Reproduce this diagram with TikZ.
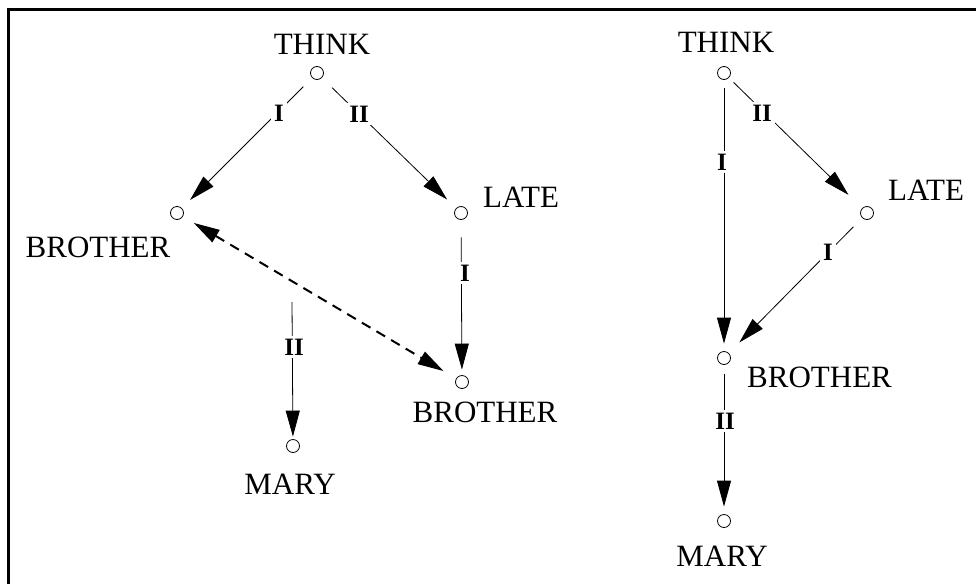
\documentclass[tikz,border=0pt]{standalone}
\usepackage{fontspec}
\setmainfont{Liberation Serif}
\usetikzlibrary{arrows.meta}
\begin{document}
\begin{tikzpicture}[x=1pt,y=-1pt,
  vert/.style={circle,draw,line width=0.8pt,minimum size=13pt,inner sep=0pt},
  word/.style={font=\fontsize{31}{36}\selectfont,inner sep=0pt},
  lbl/.style={font=\fontsize{25}{30}\selectfont\bfseries,fill=white,inner sep=3pt},
  tip/.style={-{Triangle[length=26pt,width=14pt]}},
  arc/.style={line width=0.8pt,tip},
  dasharc/.style={line width=2pt,dash pattern=on 10pt off 7pt,
    {Triangle[length=26pt,width=14pt]}-{Triangle[length=26pt,width=14pt]}}
]
\useasboundingbox (0,0) rectangle (976,584);
% frame (top and left only)
\draw[line width=3pt] (8.5,584) -- (8.5,9.5) -- (976,9.5);

% ---------- left graph ----------
\node[vert] (t1) at (317,73) {};
\node[vert] (b1) at (177,213) {};
\node[vert] (l1) at (461,213) {};
\node[vert] (b2) at (462,382) {};
\node[vert] (m1) at (293,446) {};
\coordinate (mf) at (292,302);

\node[word,anchor=base] (t1w) at (322,54) {THINK};
\node[word,anchor=base] (b1w) at (98,257) {BROTHER};
\node[word,anchor=base west] (l1w) at (483,207) {LATE};
\node[word,anchor=base] (b2w) at (485,422) {BROTHER};
\node[word,anchor=base] (m1w) at (290,494) {MARY};

\draw[arc,shorten <=12.5pt,shorten >=11.5pt] (t1) -- (b1);
\draw[arc,shorten <=14pt,shorten >=12.5pt] (t1) -- (l1);
\draw[arc,shorten <=17.5pt,shorten >=5.5pt] (l1) -- (b2);
\draw[arc,shorten >=2.5pt] (mf) -- (m1);
\draw[dasharc,shorten <=12.5pt,shorten >=14.5pt] (b1) -- (b2);

\node[lbl] (e1) at (279,113) {I};
\node[lbl] (e2) at (359,114) {II};
\node[lbl] (e3) at (465,273) {I};
\node[lbl] (e4) at (294,347) {II};

% ---------- right graph ----------
\node[vert] (t2) at (724,73) {};
\node[vert] (l2) at (867,213) {};
\node[vert] (b3) at (724,358) {};
\node[vert] (m2) at (724,521) {};

\node[word,anchor=base] (t2w) at (726,52) {THINK};
\node[word,anchor=base west] (l2w) at (888,200) {LATE};
\node[word,anchor=base west] (b3w) at (747,387) {BROTHER};
\node[word,anchor=base] (m2w) at (722,566) {MARY};

\draw[arc,shorten <=8.5pt,shorten >=7.5pt] (t2) -- (b3);
\draw[arc,shorten <=6.5pt,shorten >=19pt] (t2) -- (l2);
\draw[arc,shorten <=12.5pt,shorten >=15pt] (l2) -- (b3);
\draw[arc,shorten <=9.5pt,shorten >=7.5pt] (b3) -- (m2);

\node[lbl] (f1) at (762,113) {II};
\node[lbl] (f2) at (722,162) {I};
\node[lbl] (f3) at (828,252) {I};
\node[lbl] (f4) at (725,421) {II};
\end{tikzpicture}
\end{document}
